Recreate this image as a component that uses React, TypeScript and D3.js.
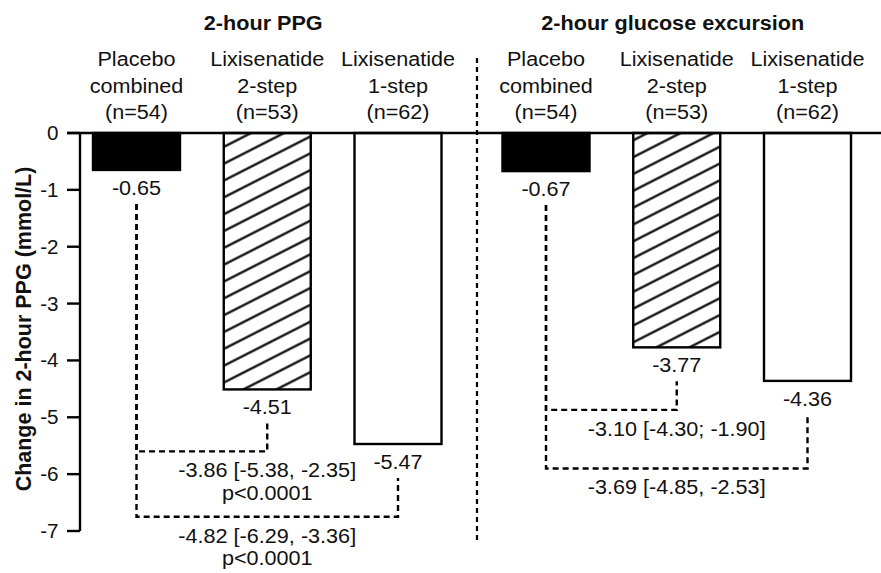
import React from "react";
import * as d3 from "d3";

// ---- data ----
const categories = ["Placebo combined", "Lixisenatide 2-step", "Lixisenatide 1-step"];
const categoryLines = [
  ["Placebo", "combined", "(n=54)"],
  ["Lixisenatide", "2-step", "(n=53)"],
  ["Lixisenatide", "1-step", "(n=62)"],
];
const panelTitles = ["2-hour PPG", "2-hour glucose excursion"];
const ppgValues = [-0.65, -4.51, -5.47];
const excursionValues = [-0.67, -3.77, -4.36];
const ppgComparisonLabels = [
  ["-3.86 [-5.38, -2.35]", "p<0.0001"],
  ["-4.82 [-6.29, -3.36]", "p<0.0001"],
];
const excursionComparisonLabels = [["-3.10 [-4.30; -1.90]"], ["-3.69 [-4.85, -2.53]"]];
const yTicks = [0, -1, -2, -3, -4, -5, -6, -7];
const yLabel = "Change in 2-hour PPG (mmol/L)";

// ---- layout ----
const W = 881;
const H = 573;
const FONT = "'Liberation Sans', Arial, Helvetica, sans-serif";
const SX = 1.03;
const BAR_W = 87;

const yScale = d3.scaleLinear().domain([0, -7]).range([133, 531]);
const xLeft = d3.scalePoint<string>().domain(categories).range([136.5, 398]);
const xRight = d3.scalePoint<string>().domain(categories).range([546, 807.5]);

const fills = ["#000", "url(#hatch)", "#fff"];

const panels = [
  { title: panelTitles[0], values: ppgValues, comps: ppgComparisonLabels, x: xLeft, levels: [-5.6, -6.75] },
  { title: panelTitles[1], values: excursionValues, comps: excursionComparisonLabels, x: xRight, levels: [-4.87, -5.9] },
];

function T({ x, y, size = 21, weight = "normal", anchor = "middle", children }: any) {
  return (
    <text
      transform={`translate(${x},${y}) scale(${SX},1)`}
      textAnchor={anchor}
      fontSize={size}
      fontWeight={weight}
      fontFamily={FONT}
      fill="#111"
    >
      {children}
    </text>
  );
}

export default function App() {
  const y0 = yScale(0);
  return (
    <svg width={W} height={H} style={{ position: "absolute", left: 0, top: 0, background: "#fff" }}>
      <defs>
        <pattern id="hatch" patternUnits="userSpaceOnUse" width={10} height={15} patternTransform="rotate(-27)">
          <rect width={10} height={15} fill="#fff" />
          <line x1={0} y1={7.5} x2={10} y2={7.5} stroke="#000" strokeWidth={2.2} />
        </pattern>
      </defs>
      <rect width={W} height={H} fill="#fff" />

      {/* y axis */}
      <line x1={80} x2={80} y1={yScale(0)} y2={yScale(-7)} stroke="#000" strokeWidth={2.4} />
      {yTicks.map((t) => (
        <g key={t}>
          <line x1={67} x2={80} y1={yScale(t)} y2={yScale(t)} stroke="#000" strokeWidth={2.4} />
          <T x={58.5} y={yScale(t) + 7} size={20} anchor="end">
            {String(t)}
          </T>
        </g>
      ))}
      <text
        transform={`translate(31,${(yScale(0) + yScale(-7)) / 2 - 3}) rotate(-90) scale(1,${SX})`}
        textAnchor="middle"
        fontSize={21.5}
        fontWeight="bold"
        fontFamily={FONT}
        fill="#111"
      >
        {yLabel}
      </text>

      {/* divider */}
      <line x1={477} x2={477} y1={58} y2={540} stroke="#000" strokeWidth={2.2} strokeDasharray="5,4" />

      {panels.map((p, pi) => {
        const cx = categories.map((c) => p.x(c) as number);
        const mid = cx[1];
        return (
          <g key={pi}>
            <T x={mid - 4} y={30} size={21} weight="bold">
              {p.title}
            </T>
            {categoryLines.map((lines, i) =>
              lines.map((ln, j) => (
                <T key={`${i}-${j}`} x={cx[i]} y={66 + j * 26.5}>
                  {ln}
                </T>
              ))
            )}
            {p.values.map((v, i) => (
              <g key={i}>
                <rect
                  x={cx[i] - BAR_W / 2}
                  y={y0}
                  width={BAR_W}
                  height={yScale(v) - y0}
                  fill={fills[i]}
                  stroke="#000"
                  strokeWidth={2.4}
                />
                <T x={cx[i]} y={yScale(v) + 25}>
                  {v.toFixed(2)}
                </T>
              </g>
            ))}
            {p.comps.map((lines, k) => {
              const target = k + 1;
              const level = yScale(p.levels[k]);
              const startP = yScale(p.values[0]) + 34;
              const startT = yScale(p.values[target]) + 34;
              const path = `M${cx[0]},${startP}V${level}H${cx[target]}V${startT}`;
              return (
                <g key={k}>
                  <path d={path} fill="none" stroke="#000" strokeWidth={2.4} strokeDasharray="6,4" />
                  {lines.map((ln, j) => (
                    <T key={j} x={mid} y={level + 26 + j * 22.5}>
                      {ln}
                    </T>
                  ))}
                </g>
              );
            })}
          </g>
        );
      })}

      {/* zero line */}
      <line x1={67} x2={W} y1={y0} y2={y0} stroke="#000" strokeWidth={2.4} />
    </svg>
  );
}
